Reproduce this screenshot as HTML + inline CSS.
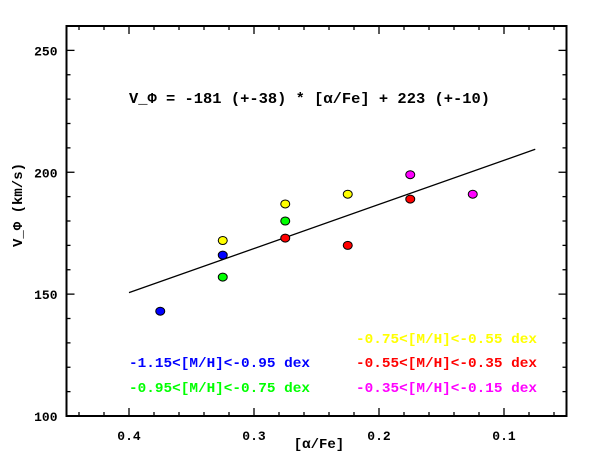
<!DOCTYPE html>
<html><head><meta charset="utf-8"><style>
body{margin:0;background:#fff}
svg text{font-family:"Liberation Mono",monospace;font-weight:bold}
</style></head><body>
<svg id="c" width="600" height="467" xmlns="http://www.w3.org/2000/svg"></svg>
<script>
const xVals=[0.375,0.325,0.325,0.275,0.325,0.275,0.225,0.275,0.225,0.175,0.175,0.125];
const yVals=[143,166,157,180,172,187,191,173,170,189,199,191];
const groups=['blue','blue','green','green','yellow','yellow','yellow','red','red','red','magenta','magenta'];
const xTicks=[0.4,0.3,0.2,0.1];
const yTicks=[100,150,200,250];
const fitSlope=-181, fitIntercept=223;
const colors={blue:'#0000ff',green:'#00ff00',yellow:'#ffff00',red:'#ff0000',magenta:'#ff00ff'};
const L=66.5,R=566.5,T=26,B=416,x0=0.45,x1=0.05,y0=100,y1=260;
const X=v=>L+(x0-v)/(x0-x1)*(R-L);
const Y=v=>B-(v-y0)/(y1-y0)*(B-T);
const s=document.getElementById('c');const NS='http://www.w3.org/2000/svg';
function el(t,a,txt){const e=document.createElementNS(NS,t);for(const k in a)e.setAttribute(k,a[k]);if(txt!==undefined)e.textContent=txt;s.appendChild(e);return e;}
const fr=el('rect',{x:L,y:T,width:R-L,height:B-T,fill:'none',stroke:'#000','stroke-width':2});


for(let i=0;i<=20;i++){const v=0.44-i*0.02;if(v<0.05)break;const x=X(v);const maj=Math.abs(v*10-Math.round(v*10))<1e-6;const l=maj?8:4;
const t1=el('line',{x1:x,x2:x,y1:B,y2:B-l,stroke:'#000','stroke-width':1.3});


const t2=el('line',{x1:x,x2:x,y1:T,y2:T+l,stroke:'#000','stroke-width':1.3});

}
for(let v=110;v<260;v+=10){const y=Y(v);const l=v%50===0?8:4;
const t1=el('line',{x1:L,x2:L+l,y1:y,y2:y,stroke:'#000','stroke-width':1.3});


const t2=el('line',{x1:R,x2:R-l,y1:y,y2:y,stroke:'#000','stroke-width':1.3});

}
xTicks.forEach(v=>{const t=el('text',{x:X(v),y:B+24,'text-anchor':'middle','font-size':13},v.toFixed(1));

});
yTicks.forEach(v=>{const t=el('text',{x:L-9,y:Y(v)+5,'text-anchor':'end','font-size':13},String(v));

});
const xl=el('text',{x:319,y:448,'text-anchor':'middle','font-size':14},'[α/Fe]');


const yl=el('text',{x:0,y:0,'text-anchor':'middle','font-size':14,transform:'translate(22,205) rotate(-90)'},'V_Φ (km/s)');


const fl=el('line',{x1:X(0.4),y1:Y(fitIntercept+fitSlope*0.4),x2:X(0.075),y2:Y(fitIntercept+fitSlope*0.075),stroke:'#000','stroke-width':1.3});


xVals.forEach((v,i)=>{const c=el('ellipse',{cx:X(v),cy:Y(yVals[i]),rx:4.5,ry:4,fill:colors[groups[i]],stroke:'#000','stroke-width':1});

});
const eq=el('text',{x:129,y:103,'font-size':15,textLength:361,lengthAdjust:'spacingAndGlyphs'},'V_Φ = -181 (+-38) * [α/Fe] + 223 (+-10)');


const leg=[['yellow','-0.75<[M/H]<-0.55 dex',356,343],['blue','-1.15<[M/H]<-0.95 dex',129,367],['red','-0.55<[M/H]<-0.35 dex',356,367],['green','-0.95<[M/H]<-0.75 dex',129,392],['magenta','-0.35<[M/H]<-0.15 dex',356,392]];
leg.forEach(l=>{const t=el('text',{x:l[2],y:l[3],fill:colors[l[0]],'font-size':14,textLength:181,lengthAdjust:'spacingAndGlyphs'},l[1]);

});
</script>
</body></html>
